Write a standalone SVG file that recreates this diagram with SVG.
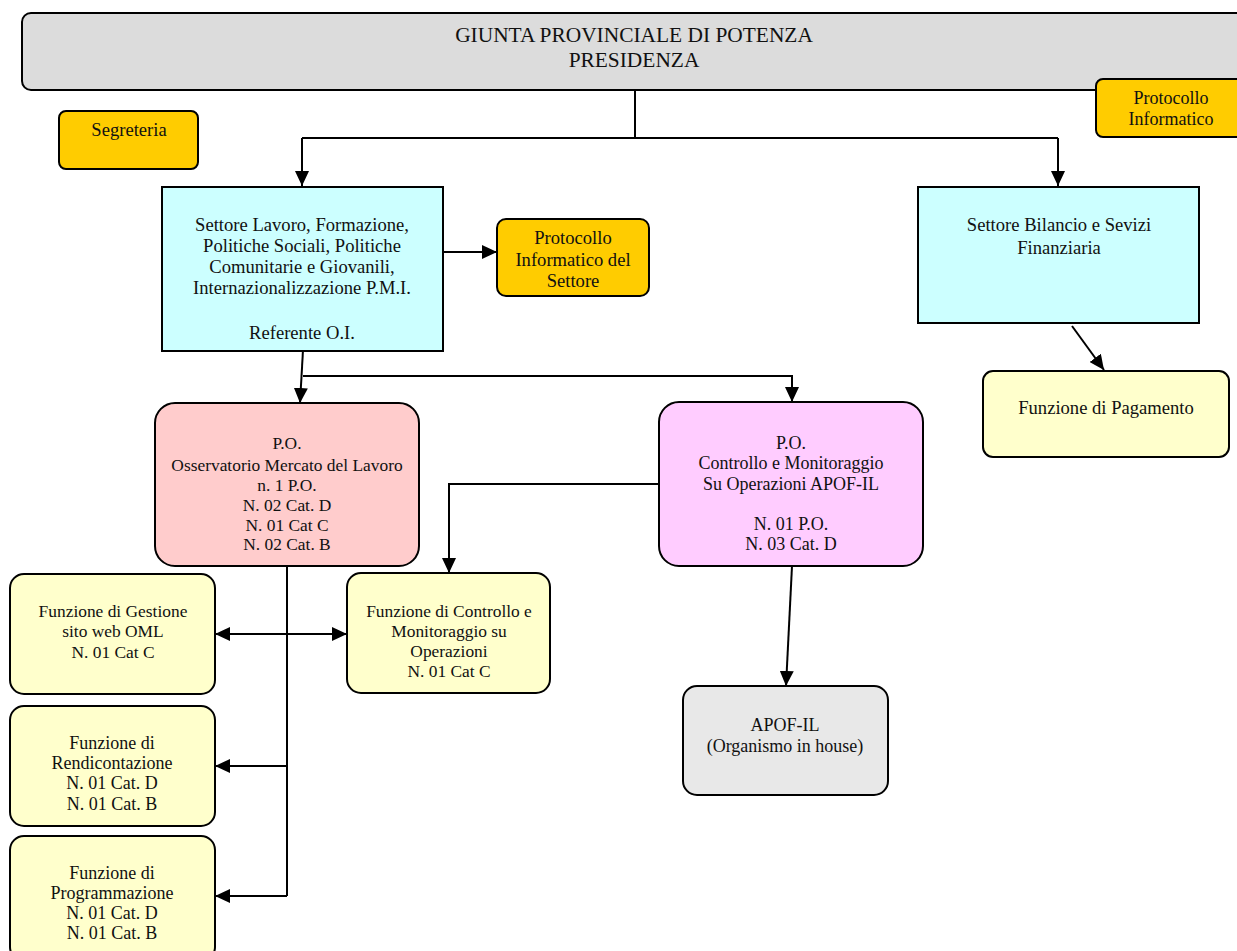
<svg xmlns="http://www.w3.org/2000/svg" width="1237" height="951" viewBox="0 0 1237 951">
<defs>
<marker id="arr" markerUnits="userSpaceOnUse" markerWidth="15" markerHeight="14" refX="15" refY="7" orient="auto-start-reverse" viewBox="0 0 15 14">
<path d="M0,0 L15,7 L0,14 z" fill="#000"/>
</marker>
</defs>
<style>
.box{stroke:#000;stroke-width:2}
.t{font-family:"Liberation Serif","Times New Roman",serif;font-size:18px;fill:#111;text-anchor:middle}
.big{font-size:21.4px}
.m{font-size:18.6px}
.s{font-size:17.4px}
.c{fill:none;stroke:#000;stroke-width:2}
.a{marker-end:url(#arr)}
</style>
<rect width="1237" height="951" fill="#fff"/>

<g id="connectors">
<path class="c" d="M635,90 V138 M302,138 H1058"/>
<path class="c a" d="M302,138 V186"/>
<path class="c a" d="M1058,138 V186"/>
<path class="c a" d="M443,252 H497"/>
<path class="c a" d="M303,350 L300,403"/>
<path class="c a" d="M303,376 H792 V402"/>
<path class="c a" d="M1072,326 L1104,370"/>
<path class="c a" d="M659,484 H449 V573"/>
<path class="c a" d="M792,566 L786,686"/>
<path class="c" d="M287,566 V896"/>
<path class="c a" d="M215,634 H347" style="marker-start:url(#arr)"/>
<path class="c a" d="M287,766 H215"/>
<path class="c a" d="M287,896 H215"/>
</g>

<g id="giunta">
<rect class="box" x="22" y="13" width="1240" height="77" rx="9" fill="#dcdcdc"/>
<text class="t big" x="634" y="42">GIUNTA PROVINCIALE DI POTENZA</text>
<text class="t big" x="634" y="67">PRESIDENZA</text>
</g>

<g id="protocollo-informatico">
<rect class="box" x="1096" y="79" width="150" height="58" rx="7" fill="#ffcc00"/>
<text class="t" x="1171" y="104">Protocollo</text>
<text class="t" x="1171" y="125">Informatico</text>
</g>

<g id="segreteria">
<rect class="box" x="59" y="111" width="139" height="58" rx="7" fill="#ffcc00"/>
<text class="t m" x="129" y="136">Segreteria</text>
</g>

<g id="settore-lavoro">
<rect class="box" x="162" y="187" width="281" height="164" fill="#ccffff"/>
<text class="t m" x="302" y="231">Settore Lavoro, Formazione,</text>
<text class="t m" x="302" y="252">Politiche Sociali, Politiche</text>
<text class="t m" x="302" y="273">Comunitarie e Giovanili,</text>
<text class="t m" x="302" y="294">Internazionalizzazione P.M.I.</text>
<text class="t m" x="302" y="339">Referente O.I.</text>
</g>

<g id="protocollo-settore">
<rect class="box" x="497" y="219" width="152" height="77" rx="9" fill="#ffcc00"/>
<text class="t m" x="573" y="244">Protocollo</text>
<text class="t m" x="573" y="266">Informatico del</text>
<text class="t m" x="573" y="287">Settore</text>
</g>

<g id="settore-bilancio">
<rect class="box" x="918" y="187" width="281" height="136" fill="#ccffff"/>
<text class="t m" x="1059" y="231">Settore Bilancio e Sevizi</text>
<text class="t m" x="1059" y="254">Finanziaria</text>
</g>

<g id="pagamento">
<rect class="box" x="983" y="371" width="246" height="86" rx="10" fill="#ffffcc"/>
<text class="t m" x="1106" y="414">Funzione di Pagamento</text>
</g>

<g id="osservatorio">
<rect class="box" x="155" y="403" width="264" height="163" rx="20" fill="#ffcccc"/>
<text class="t s" x="287" y="449">P.O.</text>
<text class="t s" x="287" y="471">Osservatorio Mercato del Lavoro</text>
<text class="t s" x="287" y="491">n. 1 P.O.</text>
<text class="t s" x="287" y="511">N. 02 Cat. D</text>
<text class="t s" x="287" y="531">N. 01 Cat C</text>
<text class="t s" x="287" y="550">N. 02 Cat. B</text>
</g>

<g id="po-controllo">
<rect class="box" x="659" y="402" width="264" height="164" rx="20" fill="#ffccff"/>
<text class="t" x="791" y="449">P.O.</text>
<text class="t" x="791" y="469">Controllo  e Monitoraggio</text>
<text class="t" x="791" y="490">Su Operazioni APOF-IL</text>
<text class="t" x="791" y="530">N. 01  P.O.</text>
<text class="t" x="791" y="550">N. 03 Cat. D</text>
</g>

<g id="gestione-web">
<rect class="box" x="10" y="574" width="205" height="120" rx="14" fill="#ffffcc"/>
<text class="t s" x="113" y="617">Funzione di Gestione</text>
<text class="t s" x="113" y="637">sito web OML</text>
<text class="t s" x="113" y="658">N. 01 Cat C</text>
</g>

<g id="controllo-operazioni">
<rect class="box" x="347" y="573" width="203" height="120" rx="14" fill="#ffffcc"/>
<text class="t s" x="449" y="617">Funzione di Controllo e</text>
<text class="t s" x="449" y="637">Monitoraggio su</text>
<text class="t s" x="449" y="657">Operazioni</text>
<text class="t s" x="449" y="677">N. 01 Cat C</text>
</g>

<g id="apof">
<rect class="box" x="683" y="686" width="205" height="109" rx="14" fill="#e8e8e8"/>
<text class="t" x="785" y="731">APOF-IL</text>
<text class="t" x="785" y="752">(Organismo  in house)</text>
</g>

<g id="rendicontazione">
<rect class="box" x="10" y="706" width="205" height="120" rx="14" fill="#ffffcc"/>
<text class="t" x="112" y="749">Funzione di</text>
<text class="t" x="112" y="769">Rendicontazione</text>
<text class="t" x="112" y="789">N. 01 Cat. D</text>
<text class="t" x="112" y="810">N. 01 Cat. B</text>
</g>

<g id="programmazione">
<rect class="box" x="10" y="836" width="205" height="125" rx="14" fill="#ffffcc"/>
<text class="t" x="112" y="879">Funzione di</text>
<text class="t" x="112" y="899">Programmazione</text>
<text class="t" x="112" y="919">N. 01 Cat. D</text>
<text class="t" x="112" y="939">N. 01 Cat. B</text>
</g>
</svg>
